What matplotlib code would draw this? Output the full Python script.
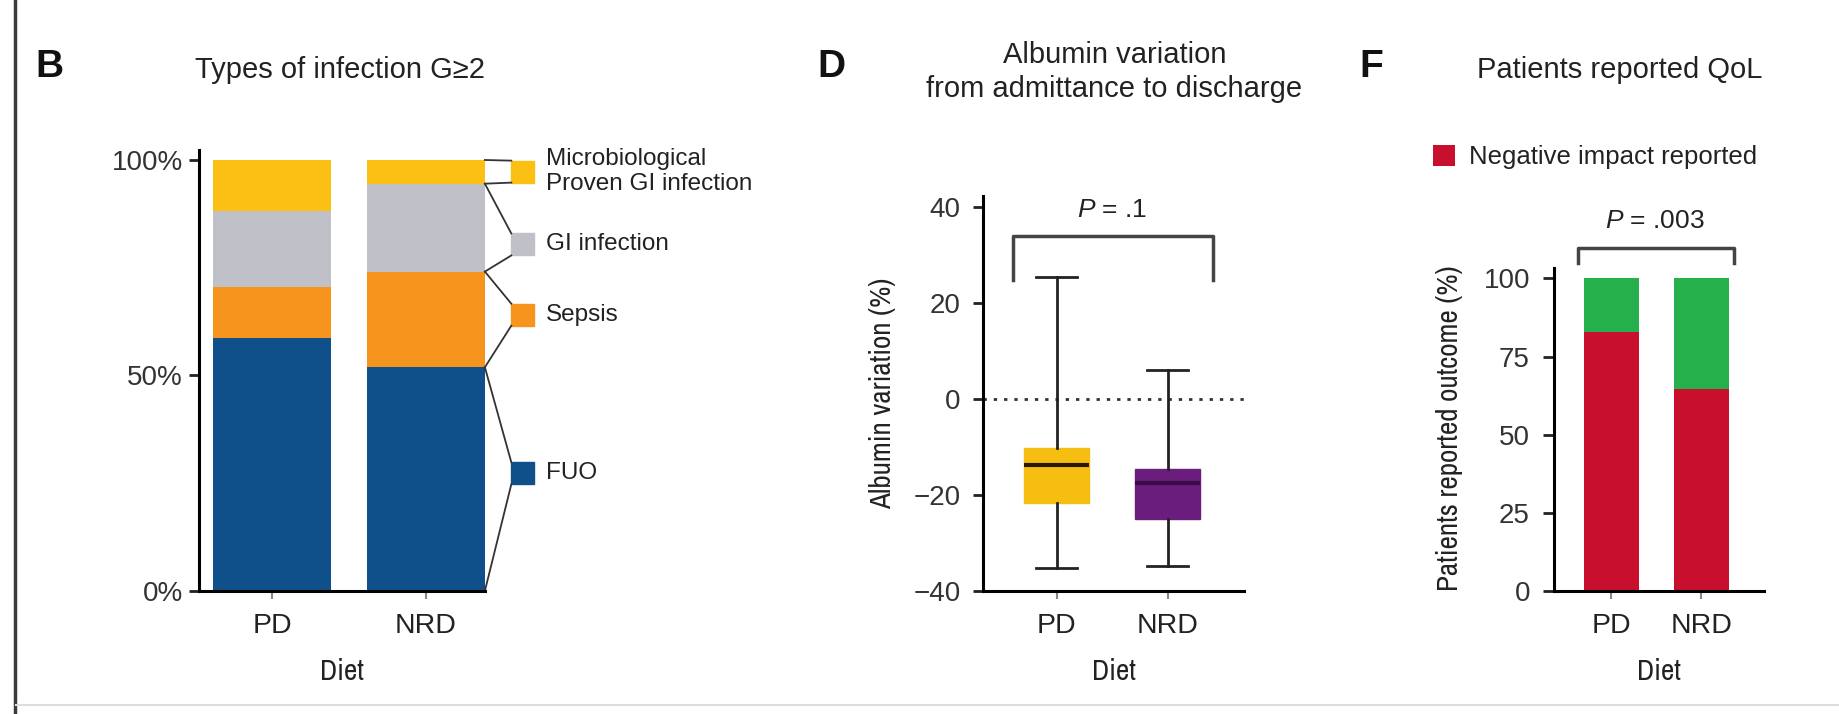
import numpy as np
import matplotlib
matplotlib.use('Agg')
import matplotlib.pyplot as plt
from matplotlib import font_manager
from matplotlib.lines import Line2D
from matplotlib.patches import Rectangle

diets = ['PD', 'NRD']

# B - share of infection types (%), stacked bottom to top
infection_types = ['FUO', 'Sepsis', 'GI infection', 'Microbiological\nProven GI infection']
infection_pd = [58.8, 11.8, 17.6, 11.8]
infection_nrd = [51.9, 22.2, 20.4, 5.5]
infection_colors = ['#10508A', '#F7941D', '#C0C0C8', '#FCC015']

# D - albumin variation (%) box summary per diet
alb_whislo = [-35.2, -34.9]
alb_q1 = [-21.7, -25.0]
alb_med = [-13.8, -17.6]
alb_q3 = [-10.3, -14.6]
alb_whishi = [25.4, 6.0]
alb_p = '.1'

# F - patients reporting a negative QoL impact (%)
neg_impact = [82.8, 64.6]
no_impact = [100 - v for v in neg_impact]
qol_p = '.003'

plt.rcParams['font.family'] = ['Liberation Sans', 'DejaVu Sans']
plt.rcParams['mathtext.fontset'] = 'custom'
plt.rcParams['mathtext.it'] = 'Liberation Sans:italic'
plt.rcParams['mathtext.rm'] = 'Liberation Sans'
plt.rcParams['axes.linewidth'] = 2.2

# axis titles in the source use a condensed face; take one if the system has it
cond_names = sorted({f.name for f in font_manager.fontManager.ttflist
                     if 'Narrow' in f.name or 'Condensed' in f.name})
if cond_names:
    narrow = dict(family=[cond_names[0], 'Liberation Sans'], fontstretch='condensed')
    lab_size = 21
else:
    narrow = dict(family=['Liberation Sans'])
    lab_size = 18
txt = '#222222'

fig = plt.figure(figsize=(18.39, 7.14), dpi=100)
x = np.arange(len(diets))


def style_axes(ax, ylen, ypad):
    for s in ['top', 'right']:
        ax.spines[s].set_visible(False)
    ax.tick_params(axis='y', length=ylen, width=2, colors='#222', labelcolor='#333',
                   labelsize=20, pad=ypad)
    ax.tick_params(axis='x', length=6, width=1.5, colors='#888', labelcolor=txt,
                   labelsize=20.5, pad=10)
    ax.set_xticks(x, diets)
    ax.set_xlabel('Diet', fontsize=21, color=txt, **narrow)


# ---- B ----
axB = fig.add_axes([0.1084, 0.1724, 0.1556, 0.6174])
bw = 0.77
bottoms = np.zeros(2)
for i, c in enumerate(infection_colors):
    h = np.array([infection_pd[i], infection_nrd[i]])
    axB.bar(x, h, bw, bottom=bottoms, color=c)
    bottoms += h
axB.set_xlim(-0.473, 1.389)
axB.set_ylim(0, 102.3)
axB.set_yticks([0, 50, 100], ['0%', '50%', '100%'])
style_axes(axB, 7, 5)
axB.xaxis.set_label_coords(0.5, -0.152)

# funnel legend tied to the NRD bar
edges = np.concatenate([[0], np.cumsum(infection_nrd)])
key_centers = [27.3, 64.1, 80.4, 97.3]
key_h, key_left, key_w = 5.1, 1.557, 0.145
bar_right = 1 + bw / 2
for i, c in enumerate(infection_colors):
    kc = key_centers[i]
    axB.plot([bar_right, key_left], [edges[i], kc - key_h / 2], color='#333', lw=1.3, clip_on=False)
    axB.plot([bar_right, key_left], [edges[i + 1], kc + key_h / 2], color='#333', lw=1.3, clip_on=False)
    axB.add_patch(Rectangle((key_left, kc - key_h / 2), key_w, key_h, color=c, clip_on=False))
    axB.text(1.78, kc, infection_types[i], va='center', ha='left', fontsize=17.5, color=txt,
             linespacing=1.15)

# ---- D ----
axD = fig.add_axes([0.5344, 0.1724, 0.1422, 0.5534])
stats = [dict(whislo=alb_whislo[i], q1=alb_q1[i], med=alb_med[i], q3=alb_q3[i],
              whishi=alb_whishi[i], fliers=[]) for i in range(2)]
bp = axD.bxp(stats, positions=x, widths=0.59, capwidths=0.37, patch_artist=True,
             showfliers=False, manage_ticks=False)
box_colors = ['#F6BE10', '#6B1D7E']
med_colors = ['#2A1A05', '#3A0D48']
for i in range(2):
    bp['boxes'][i].set(facecolor=box_colors[i], edgecolor=box_colors[i], linewidth=1)
    bp['medians'][i].set(color=med_colors[i], linewidth=3)
for ln in bp['whiskers'] + bp['caps']:
    ln.set(color='#222', linewidth=2)
axD.axhline(0, color='#333', ls=(0, (1.2, 2.5)), lw=2, zorder=0)
axD.set_xlim(-0.666, 1.692)
axD.set_ylim(-40, 42.4)
axD.set_yticks([-40, -20, 0, 20, 40], ['\u221240', '\u221220', '0', '20', '40'])
style_axes(axD, 7, 9)
axD.set_ylabel('Albumin variation (%)', fontsize=lab_size, color=txt, **narrow)
axD.yaxis.set_label_coords(-0.33, 0.5)
axD.xaxis.set_label_coords(0.5, -0.17)
axD.plot([-0.39, -0.39, 1.41, 1.41], [24.8, 34, 34, 24.8], color='#444', lw=2.5, clip_on=False)
axD.text(0.5, 39.4, '$P$ = ' + alb_p, ha='center', va='center', fontsize=19, color=txt)

# ---- F ----
axF = fig.add_axes([0.8448, 0.1724, 0.1144, 0.4516])
axF.bar(x, neg_impact, 0.607, color='#C8102E', label='Negative impact reported')
axF.bar(x, no_impact, 0.607, bottom=neg_impact, color='#25B04B')
axF.set_xlim(-0.64, 1.696)
axF.set_ylim(0, 103.2)
axF.set_yticks([0, 25, 50, 75, 100])
style_axes(axF, 8, 9)
axF.set_ylabel('Patients reported outcome (%)', fontsize=lab_size, color=txt, **narrow)
axF.yaxis.set_label_coords(-0.43, 0.506)
axF.xaxis.set_label_coords(0.5, -0.208)
axF.plot([-0.37, -0.37, 1.36, 1.36], [105, 109.8, 109.8, 105], color='#444', lw=2.5, clip_on=False)
axF.text(0.49, 118.5, '$P$ = ' + qol_p, ha='center', va='center', fontsize=19, color=txt)
axF.legend(loc='center left', bbox_to_anchor=(1222 / 1568, 1 - 134 / 609),
           bbox_transform=fig.transFigure, frameon=False, borderpad=0, borderaxespad=0,
           handlelength=0.85, handleheight=0.85, handletextpad=0.55, fontsize=18.5,
           labelcolor=txt)

# panel letters and titles
for lx, letter in [(0.0191, 'B'), (0.4445, 'D'), (0.7392, 'F')]:
    fig.text(lx, 0.906, letter, fontsize=28, fontweight='bold', va='center', color='#111')
fig.text(0.1849, 0.9015, 'Types of infection G\u22652', ha='center', va='center', fontsize=21, color=txt)
fig.text(0.6059, 0.899, 'Albumin variation\nfrom admittance to discharge', ha='center',
         va='center', fontsize=21, color=txt, linespacing=1.3)
fig.text(0.8807, 0.9015, 'Patients reported QoL', ha='center', va='center', fontsize=21, color=txt)

# page edges
fig.add_artist(Line2D([15 / 1839] * 2, [0, 1], color='#3a3a3a', lw=2.5))
fig.add_artist(Line2D([16 / 1839, 1], [1 - 705 / 714] * 2, color='#dddddd', lw=1.5))

fig.savefig('out.png', dpi=100)
